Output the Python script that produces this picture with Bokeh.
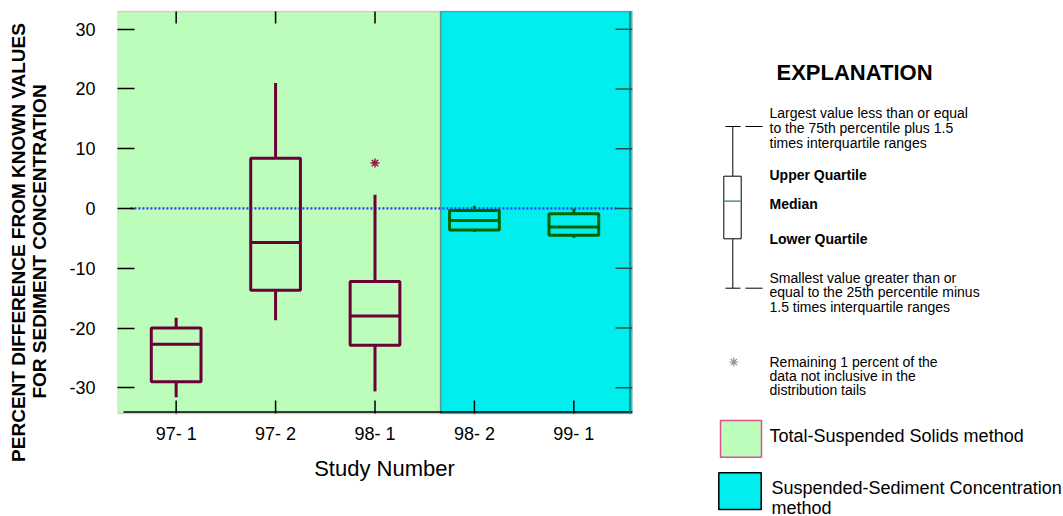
import math
from bokeh.plotting import figure
from bokeh.models import Range1d, FixedTicker, BoxAnnotation
from bokeh.layouts import row
from bokeh.embed import file_html
from bokeh.resources import INLINE
from bokeh.core.properties import value

# ---- data ----
studies = ["97- 1", "97- 2", "98- 1", "98- 2", "99- 1"]
positions = [1, 2, 3, 4, 5]
upper_whisker = [-18.3, 21.0, 2.3, 0.45, -0.05]
q3 = [-20.0, 8.4, -12.2, -0.35, -0.9]
median = [-22.7, -5.7, -18.0, -2.0, -3.1]
q1 = [-29.0, -13.7, -22.9, -3.6, -4.5]
lower_whisker = [-31.6, -18.7, -30.6, -3.9, -4.9]
method = ["TSS", "TSS", "TSS", "SSC", "SSC"]
outlier_x = [3]
outlier_y = [7.6]
y_ticks = [-30, -20, -10, 0, 10, 20, 30]
y_tick_labels = ["-30", "-20", "-10", "0", "10", "20", "30"]
y_title = ["PERCENT DIFFERENCE FROM KNOWN VALUES", "FOR SEDIMENT CONCENTRATION"]
x_title = "Study Number"

FONT = "Liberation Sans"
GREEN_BG = "#BCFDBC"
CYAN_BG = "#00EEEE"
MAROON = "#6B0036"
DKGREEN = "#006400"
PINK = "#E0508C"

colors = [MAROON if m == "TSS" else DKGREEN for m in method]

# plotting region (rows 11..413, columns 117..632 of the page)
X0, X1 = 0.41, 5.59
Y0, Y1 = -34.3, 32.95
px_x = (X1 - X0) / 515
px_y = (Y1 - Y0) / 402
TOP_PAD, BOTTOM_PAD = 11, 103

# ---- y title strip (page columns 0..60) ----
t = figure(width=60, height=516, output_backend="svg", toolbar_location=None,
           x_range=Range1d(0, 60), y_range=Range1d(516, 0), min_border=0)
t.axis.visible = False
t.grid.visible = False
t.outline_line_color = None
t.text(x=[18, 39], y=[242, 241], text=y_title, angle=math.pi / 2,
       text_font=value(FONT), text_font_size="19px", text_font_style="bold",
       text_align="center", text_baseline="middle", text_color="black")

# ---- main plot: frame spans the full height; the x-axis is drawn below the region ----
p = figure(width=580, height=516, output_backend="svg", toolbar_location=None,
           x_range=Range1d(X0, X1),
           y_range=Range1d(Y0 - BOTTOM_PAD * px_y, Y1 + TOP_PAD * px_y),
           min_border_left=57, min_border_right=8, min_border_top=0,
           min_border_bottom=0, background_fill_color="white",
           border_fill_color="white")
p.grid.visible = False
p.outline_line_color = None
p.xaxis.visible = False

boundary = 3.66
p.add_layout(BoxAnnotation(left=X0, right=boundary, top=Y1, bottom=Y0, fill_color=GREEN_BG,
                           fill_alpha=1, line_color=PINK, line_width=1.5, level="underlay"))
p.add_layout(BoxAnnotation(left=boundary, right=X1, top=Y1, bottom=Y0, fill_color=CYAN_BG,
                           fill_alpha=1, line_color="black", line_width=1.5, level="underlay"))
# axis line along the bottom of the region and dark right edge
p.segment(x0=[X0 + 6 * px_x], y0=[Y0 + 1.5 * px_y], x1=[X1], y1=[Y0 + 1.5 * px_y],
          line_color="black", line_width=1.5)
p.segment(x0=[X1 - 2.5 * px_x], y0=[Y0], x1=[X1 - 2.5 * px_x], y1=[Y1],
          line_color="#207070", line_width=1.5)

# zero reference line
p.segment(x0=[0.54], y0=[0], x1=[5.45], y1=[0], line_color="#2F2FFF",
          line_width=2.2, line_dash="2 2")

# whiskers
p.segment(x0=positions, y0=q3, x1=positions, y1=upper_whisker, line_color=colors, line_width=3)
p.segment(x0=positions, y0=q1, x1=positions, y1=lower_whisker, line_color=colors, line_width=3)
# boxes
p.vbar(x=positions, width=0.5, top=q3, bottom=q1, fill_color=None, line_color=colors, line_width=3)
# medians
p.segment(x0=[x - 0.25 for x in positions], y0=median, x1=[x + 0.25 for x in positions], y1=median,
          line_color=colors, line_width=3)
# outlier
p.scatter(x=outlier_x, y=outlier_y, marker="asterisk", size=9, line_color="#A01850", line_width=1.5)

# inward ticks: top, bottom and right edges of the region
top_ticks = positions[:3]
p.segment(x0=top_ticks, y0=[Y1] * len(top_ticks), x1=top_ticks,
          y1=[Y1 - 12 * px_y] * len(top_ticks), line_color="black", line_width=1.5)
p.segment(x0=positions, y0=[Y0] * len(positions), x1=positions,
          y1=[Y0 + 13 * px_y] * len(positions), line_color="black", line_width=1.5)
p.segment(x0=[X1] * len(y_ticks), y0=y_ticks, x1=[X1 - 17 * px_x] * len(y_ticks), y1=y_ticks,
          line_color="#205050", line_width=1.5)

# x tick labels and x title
p.text(x=positions, y=[Y0 - 20 * px_y] * len(positions), text=studies,
       text_font=value(FONT), text_font_size="18px", text_align="center",
       text_baseline="middle", text_color="black")
p.text(x=[X0 + 267 * px_x], y=[Y0 - 55 * px_y], text=[x_title],
       text_font=value(FONT), text_font_size="22px", text_align="center",
       text_baseline="middle", text_color="black")

# left axis
p.yaxis.ticker = FixedTicker(ticks=y_ticks)
p.yaxis.major_label_overrides = {tk: s for tk, s in zip(y_ticks, y_tick_labels)}
ax = p.yaxis[0]
ax.major_tick_in = 17
ax.major_tick_out = 0
ax.minor_tick_in = 0
ax.minor_tick_out = 0
ax.axis_line_color = None
ax.major_tick_line_color = "black"
ax.major_tick_line_width = 1.5
ax.major_label_text_font = FONT
ax.major_label_text_font_size = "18px"
ax.major_label_text_color = "black"
ax.major_label_standoff = 22

# ---- explanation panel (frame covers the whole height: page pixel coordinates) ----
e = figure(width=423, height=516, output_backend="svg", toolbar_location=None,
           x_range=Range1d(640, 1063), y_range=Range1d(516, 0), min_border=0)
e.axis.visible = False
e.grid.visible = False
e.outline_line_color = None
e.background_fill_color = None
e.border_fill_color = None

expl_title = ["EXPLANATION"]
upper_text = ["Largest value less than or equal", "to the 75th percentile plus 1.5",
              "times interquartile ranges"]
lower_text = ["Smallest value greater than or", "equal to the 25th percentile minus",
              "1.5 times interquartile ranges"]
quart_text = ["Upper Quartile", "Median", "Lower Quartile"]
outlier_text = ["Remaining 1 percent of the", "data not inclusive in the", "distribution tails"]
legend_text = ["Total-Suspended Solids method", "Suspended-Sediment Concentration", "method"]


def add_text(xs, ys, texts, size, style="normal"):
    e.text(x=xs, y=ys, text=texts, text_font=value(FONT), text_font_size=size,
           text_font_style=style, text_baseline="middle", text_align="left",
           text_color="black")


add_text([776], [72], expl_title, "22px", "bold")
add_text([769] * 3, [112, 127, 142], upper_text, "14px")
add_text([769] * 3, [277, 291, 306], lower_text, "14px")
add_text([769] * 3, [174, 203, 238], quart_text, "14px", "bold")
add_text([769] * 3, [361, 375, 389], outlier_text, "14px")
add_text([769, 771, 771], [435, 487, 507], legend_text, "18px")

# schematic box plot
e.segment(x0=[732.3, 732.3], y0=[126, 238.3], x1=[732.3, 732.3], y1=[175.7, 287.7],
          line_color="black", line_width=1)
e.segment(x0=[725, 725, 745, 745], y0=[126, 287.7, 126, 287.7],
          x1=[740, 740, 762, 762], y1=[126, 287.7, 126, 287.7], line_color="black", line_width=1)
e.quad(left=[723.3], right=[740.7], top=[175.7], bottom=[238.3], fill_color="white",
       line_color="black", line_width=1)
e.segment(x0=[723.8], y0=[200.7], x1=[740.2], y1=[200.7], line_color="#208070", line_width=1.2)
e.scatter(x=[733.3], y=[361.5], marker="asterisk", size=9, line_color="#909090", line_width=1.2)
# method swatches
e.quad(left=[720], right=[761], top=[420], bottom=[456.7], fill_color=GREEN_BG,
       line_color=PINK, line_width=1.5)
e.quad(left=[718.3], right=[760.7], top=[472.3], bottom=[509], fill_color=CYAN_BG,
       line_color="black", line_width=1.5)

layout = row(t, p, e, spacing=0)
open("out.html", "w").write(file_html(layout, INLINE))
